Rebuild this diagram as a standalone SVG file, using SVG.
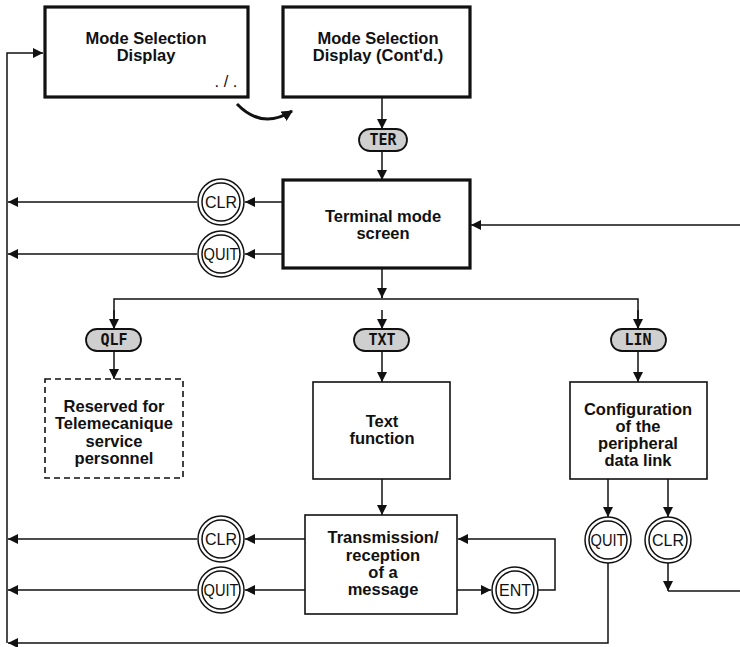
<svg xmlns="http://www.w3.org/2000/svg" width="740" height="647" viewBox="0 0 740 647">
  <style>
    .box { fill: #fff; stroke: #111; stroke-width: 1.6; }
    .thick { stroke-width: 3.2; }
    .dash { stroke-dasharray: 6 4; }
    .pill { fill: #cfcfcf; stroke: #111; stroke-width: 1.8; }
    .key { fill: #fff; stroke: #111; stroke-width: 1.5; }
    .lbl { font-family: "Liberation Sans", Arial, sans-serif; font-weight: bold; font-size: 16.5px; fill: #111; text-anchor: middle; }
    .mono { font-family: "DejaVu Sans Mono", "Liberation Mono", monospace; font-weight: bold; font-size: 15px; fill: #111; text-anchor: middle; }
    .kt { font-family: "Liberation Sans Narrow", "Liberation Sans", Arial, sans-serif; font-size: 16px; fill: #111; text-anchor: middle; }
    .ln { fill: none; stroke: #111; stroke-width: 1.5; }
  </style>
  <defs>
    <marker id="ah" viewBox="0 0 10 10" refX="10" refY="5" markerWidth="10" markerHeight="10" markerUnits="userSpaceOnUse" orient="auto">
      <path d="M0,0 L10,5 L0,10 z" fill="#111"/>
    </marker>
    <marker id="ahb" viewBox="0 0 10 10" refX="9" refY="5" markerWidth="11" markerHeight="11" markerUnits="userSpaceOnUse" orient="auto">
      <path d="M0,0 L10,5 L0,10 z" fill="#111"/>
    </marker>
  </defs>

  <g id="connectors">
    <!-- return bus on the left -->
    <path class="ln" d="M7,643 V53 H43" marker-end="url(#ah)"/>
    <!-- page turn -->
    <path d="M237,104 Q262,130 292,111" fill="none" stroke="#111" stroke-width="3" marker-end="url(#ahb)"/>
    <path class="ln" d="M382,97 V129" marker-end="url(#ah)"/>
    <path class="ln" d="M382,151 V180" marker-end="url(#ah)"/>
    <!-- terminal screen exits -->
    <path class="ln" d="M283,202 H245" marker-end="url(#ah)"/>
    <path class="ln" d="M197,202 H8" marker-end="url(#ah)"/>
    <path class="ln" d="M283,254 H245" marker-end="url(#ah)"/>
    <path class="ln" d="M197,254 H8" marker-end="url(#ah)"/>
    <path class="ln" d="M740,225 H471" marker-end="url(#ah)"/>
    <!-- branch -->
    <path class="ln" d="M382,268 V298"/>
    <path class="ln" d="M382,290 V298" marker-end="url(#ah)"/>
    <path class="ln" d="M114,329 V299 H638 V329" />
    <path class="ln" d="M114,310 V329" marker-end="url(#ah)"/>
    <path class="ln" d="M382,310 V329" marker-end="url(#ah)"/>
    <path class="ln" d="M638,310 V329" marker-end="url(#ah)"/>
    <path class="ln" d="M114,351 V379" marker-end="url(#ah)"/>
    <path class="ln" d="M382,351 V382" marker-end="url(#ah)"/>
    <path class="ln" d="M638,351 V382" marker-end="url(#ah)"/>
    <path class="ln" d="M382,479 V515" marker-end="url(#ah)"/>
    <!-- message exits -->
    <path class="ln" d="M305,539 H245" marker-end="url(#ah)"/>
    <path class="ln" d="M197,539 H8" marker-end="url(#ah)"/>
    <path class="ln" d="M305,590 H245" marker-end="url(#ah)"/>
    <path class="ln" d="M197,590 H8" marker-end="url(#ah)"/>
    <path class="ln" d="M457,590 H491" marker-end="url(#ah)"/>
    <path class="ln" d="M538,590 H555 V539 H458" marker-end="url(#ah)"/>
    <!-- link configuration exits -->
    <path class="ln" d="M608,479 V517" marker-end="url(#ah)"/>
    <path class="ln" d="M668,479 V517" marker-end="url(#ah)"/>
    <path class="ln" d="M608,563 V643 H8" marker-end="url(#ah)"/>
    <path class="ln" d="M668,563 V591" marker-end="url(#ah)"/>
    <path class="ln" d="M668,591 H740"/>
  </g>

  <g id="mode-selection">
    <rect class="box thick" x="45" y="7" width="203" height="90"/>
    <text class="lbl" x="146" y="44">Mode Selection</text>
    <text class="lbl" x="146" y="61">Display</text>
    <text class="lbl" x="226" y="87" style="font-weight:normal">. / .</text>
  </g>

  <g id="mode-selection-contd">
    <rect class="box thick" x="283" y="7" width="187" height="90"/>
    <text class="lbl" x="378" y="44">Mode Selection</text>
    <text class="lbl" x="378" y="61">Display (Cont'd.)</text>
  </g>

  <g id="key-ter">
    <rect class="pill" x="359" y="129" width="48" height="22" rx="11"/>
    <text class="mono" x="383" y="145">TER</text>
  </g>

  <g id="terminal-mode">
    <rect class="box thick" x="283" y="180" width="187" height="88"/>
    <text class="lbl" x="383" y="222">Terminal mode</text>
    <text class="lbl" x="383" y="239">screen</text>
  </g>

  <g id="key-clr-1">
    <circle class="key" cx="221" cy="202" r="23"/>
    <circle class="key" cx="221" cy="202" r="19"/>
    <text class="kt" x="221" y="208">CLR</text>
  </g>
  <g id="key-quit-1">
    <circle class="key" cx="221" cy="254" r="23"/>
    <circle class="key" cx="221" cy="254" r="19"/>
    <text class="kt" x="221" y="260" textLength="35" lengthAdjust="spacingAndGlyphs">QUIT</text>
  </g>

  <g id="key-qlf">
    <rect class="pill" x="86" y="329" width="55" height="22" rx="11"/>
    <text class="mono" x="114" y="345">QLF</text>
  </g>
  <g id="reserved">
    <rect class="box dash" x="45" y="379" width="138" height="99"/>
    <text class="lbl" x="114" y="412">Reserved for</text>
    <text class="lbl" x="114" y="429">Telemecanique</text>
    <text class="lbl" x="114" y="447">service</text>
    <text class="lbl" x="114" y="464">personnel</text>
  </g>

  <g id="key-txt">
    <rect class="pill" x="354" y="329" width="55" height="22" rx="11"/>
    <text class="mono" x="382" y="345">TXT</text>
  </g>
  <g id="text-function">
    <rect class="box" x="313" y="382" width="137" height="97"/>
    <text class="lbl" x="382" y="427">Text</text>
    <text class="lbl" x="382" y="444">function</text>
  </g>

  <g id="key-lin">
    <rect class="pill" x="611" y="329" width="55" height="22" rx="11"/>
    <text class="mono" x="638" y="345">LIN</text>
  </g>
  <g id="link-config">
    <rect class="box" x="570" y="382" width="137" height="97"/>
    <text class="lbl" x="638" y="415">Configuration</text>
    <text class="lbl" x="638" y="432">of the</text>
    <text class="lbl" x="638" y="449">peripheral</text>
    <text class="lbl" x="638" y="466">data link</text>
  </g>

  <g id="transmission">
    <rect class="box" x="305" y="515" width="152" height="99"/>
    <text class="lbl" x="383" y="543">Transmission/</text>
    <text class="lbl" x="383" y="561">reception</text>
    <text class="lbl" x="383" y="578">of a</text>
    <text class="lbl" x="383" y="595">message</text>
  </g>

  <g id="key-clr-2">
    <circle class="key" cx="221" cy="539" r="23"/>
    <circle class="key" cx="221" cy="539" r="19"/>
    <text class="kt" x="221" y="545">CLR</text>
  </g>
  <g id="key-quit-2">
    <circle class="key" cx="221" cy="590" r="23"/>
    <circle class="key" cx="221" cy="590" r="19"/>
    <text class="kt" x="221" y="596" textLength="35" lengthAdjust="spacingAndGlyphs">QUIT</text>
  </g>
  <g id="key-ent">
    <circle class="key" cx="515" cy="590" r="23"/>
    <circle class="key" cx="515" cy="590" r="19"/>
    <text class="kt" x="515" y="596">ENT</text>
  </g>

  <g id="key-quit-3">
    <circle class="key" cx="608" cy="540" r="23"/>
    <circle class="key" cx="608" cy="540" r="19"/>
    <text class="kt" x="608" y="546" textLength="35" lengthAdjust="spacingAndGlyphs">QUIT</text>
  </g>
  <g id="key-clr-3">
    <circle class="key" cx="668" cy="540" r="23"/>
    <circle class="key" cx="668" cy="540" r="19"/>
    <text class="kt" x="668" y="546">CLR</text>
  </g>
</svg>
